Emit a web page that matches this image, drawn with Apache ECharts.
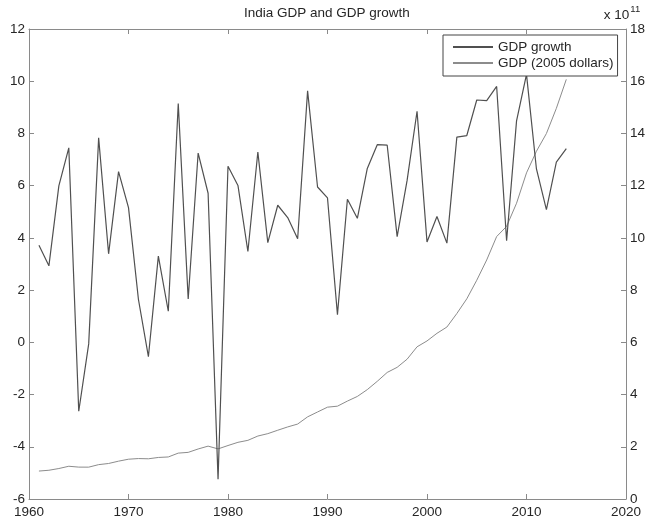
<!DOCTYPE html>
<html>
<head>
<meta charset="utf-8">
<script src="https://cdn.jsdelivr.net/npm/echarts@6/dist/echarts.min.js"></script>
<style>
html,body{margin:0;padding:0;background:#fff;}
#main{width:660px;height:521px;}
</style>
</head>
<body>
<div id="main"></div>
<script>
// Years (x values)
var years = [1961,1962,1963,1964,1965,1966,1967,1968,1969,1970,
             1971,1972,1973,1974,1975,1976,1977,1978,1979,1980,
             1981,1982,1983,1984,1985,1986,1987,1988,1989,1990,
             1991,1992,1993,1994,1995,1996,1997,1998,1999,2000,
             2001,2002,2003,2004,2005,2006,2007,2008,2009,2010,
             2011,2012,2013,2014];
// GDP growth (annual %)
var gdpGrowth = [3.72,2.93,5.99,7.45,-2.64,-0.06,7.83,3.39,6.54,5.16,
                 1.64,-0.55,3.30,1.19,9.15,1.66,7.25,5.71,-5.24,6.74,
                 6.01,3.48,7.29,3.82,5.25,4.78,3.97,9.63,5.95,5.53,
                 1.06,5.48,4.75,6.66,7.57,7.55,4.05,6.20,8.85,3.84,
                 4.82,3.80,7.86,7.92,9.28,9.26,9.80,3.89,8.48,10.26,
                 6.64,5.08,6.90,7.42];
// GDP (constant 2005 US$), in units of 1e11
var gdp = [1.070,1.101,1.167,1.254,1.221,1.220,1.316,1.360,1.449,1.524,
           1.549,1.540,1.591,1.610,1.757,1.786,1.916,2.025,1.919,2.048,
           2.171,2.247,2.411,2.503,2.634,2.760,2.870,3.146,3.333,3.517,
           3.555,3.750,3.928,4.190,4.507,4.847,5.043,5.355,5.829,6.053,
           6.345,6.586,7.104,7.667,8.378,9.154,10.051,10.442,11.328,12.490,
           13.319,13.996,14.961,16.071];
var xTicks = [1960,1970,1980,1990,2000,2010,2020];
var leftTicks = [-6,-4,-2,0,2,4,6,8,10,12];
var rightTicks = [0,2,4,6,8,10,12,14,16,18];

var growthData = years.map(function(y,i){return [y,gdpGrowth[i]];});
var gdpData = years.map(function(y,i){return [y,gdp[i]];});

var FONT = 'Liberation Sans, Arial, Helvetica, sans-serif';
var TXT = '#262626';
var AX = '#8a8a8a';
function plain(v){ return String(v); }

var chart = echarts.init(document.getElementById('main'), null, {renderer:'canvas'});
chart.setOption({
  backgroundColor:'#fff',
  animation:false,
  textStyle:{fontFamily:FONT},
  title:{
    text:'India GDP and GDP growth',
    left:244, top:6, padding:0,
    textStyle:{fontSize:13.5, fontWeight:'normal', color:TXT, fontFamily:FONT}
  },
  legend:{
    orient:'vertical',
    left:443, top:35,
    padding:[5,4,6,9],
    itemGap:2,
    itemWidth:40, itemHeight:14,
    borderColor:'#444', borderWidth:1,
    backgroundColor:'#fff',
    itemStyle:{opacity:0},
    textStyle:{fontSize:13.5, color:TXT, fontFamily:FONT},
    data:['GDP growth','GDP (2005 dollars)']
  },
  grid:{left:29, right:34, top:29, bottom:22, containLabel:false},
  xAxis:[{
    type:'value', min:xTicks[0], max:xTicks[xTicks.length-1], interval:10,
    position:'bottom',
    axisLine:{show:true, onZero:false, lineStyle:{color:AX, width:1}},
    axisTick:{show:true, inside:true, length:5, lineStyle:{color:AX}},
    axisLabel:{show:true, color:TXT, fontSize:13.5, margin:6, fontFamily:FONT, formatter:plain},
    splitLine:{show:false}
  },{
    type:'value', min:xTicks[0], max:xTicks[xTicks.length-1], interval:10,
    position:'top',
    axisLine:{show:true, onZero:false, lineStyle:{color:AX, width:1}},
    axisTick:{show:true, inside:true, length:5, lineStyle:{color:AX}},
    axisLabel:{show:false},
    splitLine:{show:false}
  }],
  yAxis:[{
    type:'value', min:leftTicks[0], max:leftTicks[leftTicks.length-1], interval:2,
    position:'left',
    axisLine:{show:true, onZero:false, lineStyle:{color:AX, width:1}},
    axisTick:{show:true, inside:true, length:5, lineStyle:{color:AX}},
    axisLabel:{show:true, color:TXT, fontSize:13.5, margin:4, fontFamily:FONT, formatter:plain},
    splitLine:{show:false}
  },{
    type:'value', min:rightTicks[0], max:rightTicks[rightTicks.length-1], interval:2,
    position:'right',
    name:'{a|x 10}{b|11}',
    nameLocation:'end',
    nameGap:3,
    nameTextStyle:{
      color:TXT, fontFamily:FONT,
      padding:[0,8,0,0],
      rich:{
        a:{fontSize:13.5, color:TXT, fontFamily:FONT, verticalAlign:'bottom'},
        b:{fontSize:9.5, color:TXT, fontFamily:FONT, verticalAlign:'top', padding:[0,0,8,1]}
      }
    },
    axisLine:{show:true, onZero:false, lineStyle:{color:AX, width:1}},
    axisTick:{show:true, inside:true, length:5, lineStyle:{color:AX}},
    axisLabel:{show:true, color:TXT, fontSize:13.5, margin:4, fontFamily:FONT, formatter:plain},
    splitLine:{show:false}
  }],
  series:[{
    name:'GDP growth',
    type:'line',
    xAxisIndex:0, yAxisIndex:0,
    data:growthData,
    symbol:'none', showSymbol:false,
    lineStyle:{color:'#505050', width:1.2},
    itemStyle:{color:'#505050'},
    z:3
  },{
    name:'GDP (2005 dollars)',
    type:'line',
    xAxisIndex:0, yAxisIndex:1,
    data:gdpData,
    symbol:'none', showSymbol:false,
    lineStyle:{color:'#8c8c8c', width:1},
    itemStyle:{color:'#8c8c8c'},
    z:2
  }]
});
</script>
</body>
</html>
